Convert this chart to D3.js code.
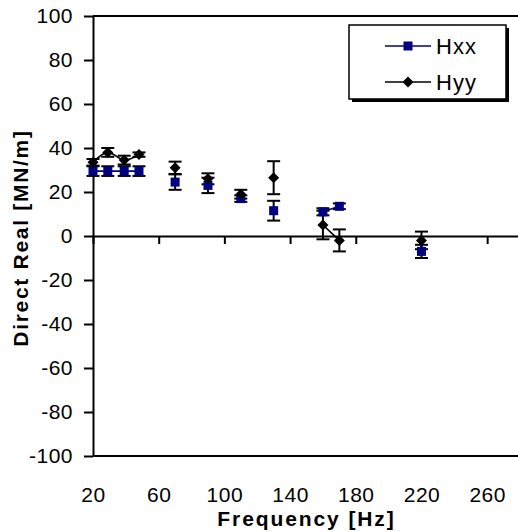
<!DOCTYPE html>
<html>
<head>
<meta charset="utf-8">
<script src="https://cdn.jsdelivr.net/npm/d3@7/dist/d3.min.js"></script>
<style>
  html, body { margin: 0; padding: 0; background: #fff; }
  svg { display: block; }
  text { font-family: "Liberation Sans", Arial, sans-serif; fill: #000; }
</style>
</head>
<body>
<div id="chart"></div>
<script>
// ---- data ----
const freq = [20, 29, 39, 48, 70, 90, 110, 130, 160, 170, 220];
const group = [0, 0, 0, 0, 1, 2, 3, 4, 5, 5, 6];
const hxx = [29.5, 29.5, 29.5, 29.5, 24.5, 23, 17, 11.5, 11, 13.5, -7];
const hxxErr = [2.2, 2.2, 2.2, 2.2, 3.5, 3.5, 1.5, 4.5, 1.6, 1.3, 3];
const hyy = [33.5, 38, 34.5, 37, 31, 26, 19, 26.5, 5, -2, -2];
const hyyErr = [1.5, 2, 2, 1, 2.8, 2.5, 2, 7.5, 6.5, 5, 4];
const xTicks = [20, 60, 100, 140, 180, 220, 260];
const yTicks = [-100, -80, -60, -40, -20, 0, 20, 40, 60, 80, 100];
const seriesNames = ["Hxx", "Hyy"];

const W = 518, H = 532;
const svg = d3.select("#chart").append("svg").attr("width", W).attr("height", H);

const x = d3.scaleLinear().domain([20, 280]).range([93, 520]);
const y = d3.scaleLinear().domain([-100, 100]).range([456, 16]);

const navy = "#000080";
const fmt = d => String(d);

// plot frame (top / bottom)
svg.append("line").attr("x1", x(20)).attr("x2", x(280)).attr("y1", y(100)).attr("y2", y(100))
  .attr("stroke", "#000").attr("stroke-width", 2);
svg.append("line").attr("x1", x(20)).attr("x2", x(280)).attr("y1", y(-100)).attr("y2", y(-100))
  .attr("stroke", "#000").attr("stroke-width", 2);

// y axis
const yAxis = svg.append("g").attr("transform", `translate(${x(20)},0)`)
  .call(d3.axisLeft(y).tickValues(yTicks).tickSize(9).tickSizeOuter(0).tickPadding(11).tickFormat(fmt));
yAxis.selectAll("text").style("font-size", "21px").style("letter-spacing", "0.5px");

// x axis at y = 0
const xAxis = svg.append("g").attr("transform", `translate(0,${y(0)})`)
  .call(d3.axisBottom(x).tickValues(xTicks).tickSize(8).tickSizeOuter(0).tickFormat(fmt));
xAxis.selectAll("text").style("font-size", "21px").style("letter-spacing", "0.5px")
  .attr("y", 251).attr("dy", "0.71em");

[yAxis, xAxis].forEach(a => {
  a.select(".domain").attr("stroke", "#000").attr("stroke-width", 2);
  a.selectAll(".tick line").attr("stroke", "#000").attr("stroke-width", 2);
});

// titles
svg.append("text").attr("x", (x(20) + x(280)) / 2).attr("y", 526)
  .attr("text-anchor", "middle").style("font-size", "21px").style("font-weight", "bold")
  .style("letter-spacing", "1.9px")
  .text("Frequency [Hz]");
svg.append("text").attr("transform", `translate(28,${y(0) + 2}) rotate(-90)`)
  .attr("text-anchor", "middle").style("font-size", "21px").style("font-weight", "bold")
  .style("letter-spacing", "1.7px")
  .text("Direct Real [MN/m]");

// series
const series = [
  { name: "Hxx", vals: hxx, err: hxxErr, color: navy, marker: "square" },
  { name: "Hyy", vals: hyy, err: hyyErr, color: "#000", marker: "diamond" }
];

const line = d3.line().x(d => x(d.f)).y(d => y(d.v)).curve(d3.curveCatmullRom.alpha(0.5));

series.forEach(s => {
  const pts = freq.map((f, i) => ({ f, v: s.vals[i], e: s.err[i], g: group[i] }));
  const groups = d3.groups(pts, d => d.g);
  groups.forEach(([g, arr]) => {
    if (arr.length > 1) {
      svg.append("path").datum(arr).attr("d", line)
        .attr("fill", "none").attr("stroke", s.color).attr("stroke-width", 1.6);
    }
  });
  s.pts = pts;
});

// error bars
series.forEach(s => {
  const eb = svg.append("g");
  s.pts.forEach(p => {
    const cx = x(p.f), y1 = y(p.v + p.e), y2 = y(p.v - p.e);
    eb.append("line").attr("x1", cx).attr("x2", cx).attr("y1", y1).attr("y2", y2)
      .attr("stroke", "#000").attr("stroke-width", 2);
    [y1, y2].forEach(yy => eb.append("line").attr("x1", cx - 6.5).attr("x2", cx + 6.5)
      .attr("y1", yy).attr("y2", yy).attr("stroke", "#000").attr("stroke-width", 2));
  });
});

// markers
function drawMarker(g, type, cx, cy, color) {
  if (type === "square") {
    g.append("rect").attr("x", cx - 4.5).attr("y", cy - 4.5).attr("width", 9).attr("height", 9)
      .attr("fill", color);
  } else {
    const r = 5.5;
    g.append("path").attr("d", `M${cx},${cy - r}L${cx + r},${cy}L${cx},${cy + r}L${cx - r},${cy}Z`)
      .attr("fill", color);
  }
}
series.forEach(s => {
  const mg = svg.append("g");
  s.pts.forEach(p => drawMarker(mg, s.marker, x(p.f), y(p.v), s.color));
});

// legend
const lg = svg.append("g");
lg.append("rect").attr("x", 352).attr("y", 28).attr("width", 157).attr("height", 74).attr("fill", "#000");
lg.append("rect").attr("x", 349).attr("y", 25).attr("width", 157).attr("height", 74)
  .attr("fill", "#fff").attr("stroke", "#000").attr("stroke-width", 1.5);
series.forEach((s, i) => {
  const ly = 46 + i * 36;
  lg.append("line").attr("x1", 385).attr("x2", 431).attr("y1", ly).attr("y2", ly)
    .attr("stroke", s.color).attr("stroke-width", 1.6);
  drawMarker(lg, s.marker, 408, ly, s.color);
  lg.append("text").attr("x", 436).attr("y", ly + 8).style("font-size", "22px")
    .style("letter-spacing", "1px").text(seriesNames[i]);
});
</script>
</body>
</html>
